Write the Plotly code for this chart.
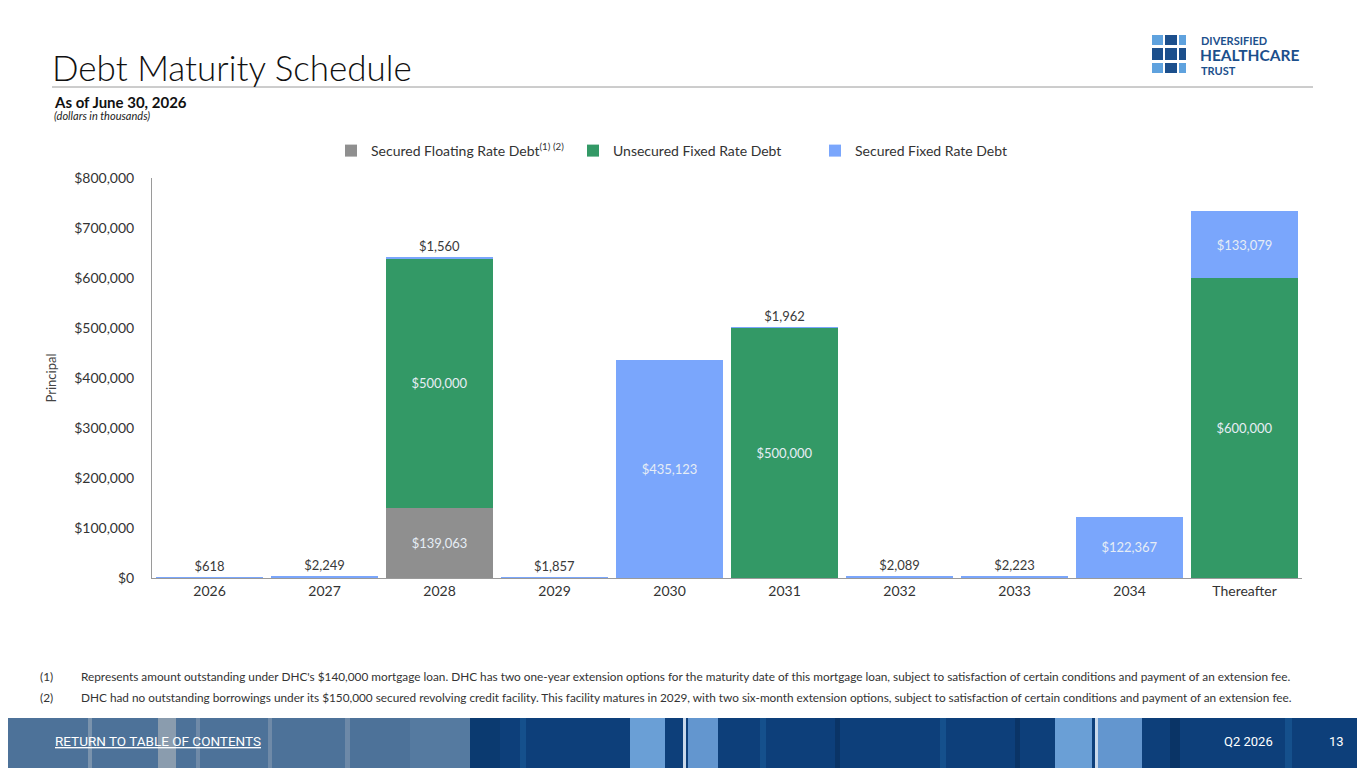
import plotly.graph_objects as go

categories = ["2026", "2027", "2028", "2029", "2030", "2031", "2032", "2033", "2034", "Thereafter"]
secured_floating = [0, 0, 139063, 0, 0, 0, 0, 0, 0, 0]
unsecured_fixed = [0, 0, 500000, 0, 0, 500000, 0, 0, 0, 600000]
secured_fixed = [618, 2249, 1560, 1857, 435123, 1962, 2089, 2223, 122367, 133079]
y_ticks = [0, 100000, 200000, 300000, 400000, 500000, 600000, 700000, 800000]
y_tick_labels = ["$0", "$100,000", "$200,000", "$300,000", "$400,000", "$500,000", "$600,000", "$700,000", "$800,000"]

# page is drawn with an 8px body offset; work in screen pixels and convert
OFF = 8
W, H = 1365 - OFF, 768 - OFF
PL, PR, PT, PB = 152, 1302, 178, 578  # plot area in screen pixels
L, T = PL - OFF, PT - OFF
R, B = W - (PR - OFF), H - (PB - OFF)
PW, PH = PR - PL, PB - PT


def px(x):
    return (x - PL) / PW


def py(y):
    return (PB - y) / PH


FONT = "Lato"
GREY = "#8f8f8f"
GREEN = "#339966"
BLUE = "#7aa6fc"
INSIDE_TXT = "#e6edf5"
OUT_TXT = "#3a3a3a"


def labels(vals):
    return [f"${v:,}" if v else "" for v in vals]


fig = go.Figure()
fig.add_trace(go.Bar(
    x=categories, y=secured_floating, name="Secured Floating Rate Debt<sup>(1) (2)</sup>",
    marker=dict(color=GREY, line=dict(width=0)),
    text=labels(secured_floating), textposition="inside", insidetextanchor="middle",
    textfont=dict(color=INSIDE_TXT, size=13, family=FONT), hoverinfo="skip",
))
fig.add_trace(go.Bar(
    x=categories, y=unsecured_fixed, name="Unsecured Fixed Rate Debt",
    marker=dict(color=GREEN, line=dict(width=0)),
    text=labels(unsecured_fixed), textposition="inside", insidetextanchor="middle",
    textfont=dict(color=INSIDE_TXT, size=13, family=FONT), hoverinfo="skip",
))
sf_pos = ["inside" if v > 50000 else "outside" for v in secured_fixed]
fig.add_trace(go.Bar(
    x=categories, y=secured_fixed, name="Secured Fixed Rate Debt",
    marker=dict(color=BLUE, line=dict(width=0)),
    text=labels(secured_fixed), textposition=sf_pos, insidetextanchor="middle",
    insidetextfont=dict(color=INSIDE_TXT, size=13, family=FONT),
    outsidetextfont=dict(color=OUT_TXT, size=13, family=FONT),
    cliponaxis=False, hoverinfo="skip",
))

shapes = []
annotations = []


def ann(text, x, y, size, color="#111111", xanchor="left", family=FONT, weight=None):
    f = dict(family=family, size=size, color=color)
    if weight:
        f["weight"] = weight
    annotations.append(dict(text=text, x=px(x), y=py(y), xref="paper", yref="paper",
                            xanchor=xanchor, yanchor="middle", showarrow=False, font=f))


# title rule
shapes.append(dict(type="line", xref="paper", yref="paper", x0=px(52), x1=px(1313), y0=py(87), y1=py(87),
                   line=dict(color="#9a9a9a", width=1)))

ann("Debt Maturity Schedule", 50, 67, 35, weight=300)
ann("<b>As of June 30, 2026</b>", 52, 102, 15)
ann("<i>(dollars in thousands)</i>", 52, 115, 11, color="#222222")

# logo
DARK = "#1c4f8c"
LIGHT = "#5fa2de"
cols = [(1152, 1163), (1165, 1177), (1179, 1186)]
rows = [(35, 45), (48, 60), (63, 73)]
pattern = [[LIGHT, DARK, LIGHT], [DARK, DARK, DARK], [LIGHT, DARK, LIGHT]]
for ri, (y0, y1) in enumerate(rows):
    for ci, (x0, x1) in enumerate(cols):
        shapes.append(dict(type="rect", xref="paper", yref="paper", x0=px(x0), x1=px(x1),
                           y0=py(y1), y1=py(y0), fillcolor=pattern[ri][ci], line=dict(width=0)))
ann("<b>DIVERSIFIED</b>", 1199, 40, 11, color=DARK)
ann("<b>HEALTHCARE</b>", 1198, 55, 15.5, color=DARK)
ann("<b>TRUST</b>", 1199, 70, 11, color=DARK)

# footnotes
notes = [
    ("(1)", "Represents amount outstanding under DHC's $140,000 mortgage loan. DHC has two one-year extension options for the maturity date of this mortgage loan, subject to satisfaction of certain conditions and payment of an extension fee."),
    ("(2)", "DHC had no outstanding borrowings under its $150,000 secured revolving credit facility. This facility matures in 2029, with two six-month extension options, subject to satisfaction of certain conditions and payment of an extension fee."),
]
for i, (n, t) in enumerate(notes):
    yy = 676 + 21 * i
    ann(n, 38, yy, 11.8, color="#333333")
    ann(t, 79, yy, 11.8, color="#333333")


# bottom banner
def rect(x0, x1, y0, y1, color):
    shapes.append(dict(type="rect", xref="paper", yref="paper", x0=px(x0), x1=px(x1), y0=py(y1), y1=py(y0),
                       fillcolor=color, line=dict(width=0), layer="above"))


rect(0, 1365, 718, 768, "#0d3f7a")
rect(0, 470, 718, 768, "#4d7299")
for (a, b, c) in [(0, 6, "#6f8fb0"), (88, 92, "#7a93ad"), (158, 176, "#8a9cae"), (196, 200, "#6f8aa8"),
                  (268, 272, "#6f8aa8"), (345, 350, "#6d89a8"), (410, 470, "#557aa0")]:
    rect(a, b, 718, 768, c)
for (a, b, c) in [(470, 500, "#0b3a70"), (520, 526, "#15508c"), (630, 665, "#6a9fd6"), (683, 686, "#c9d8ea"),
                  (688, 718, "#6396cf"), (760, 766, "#15508c"), (835, 840, "#0a3466"), (940, 946, "#15508c"),
                  (1015, 1020, "#0a3466"), (1055, 1092, "#6a9fd6"), (1095, 1098, "#c9d8ea"),
                  (1098, 1142, "#6396cf"), (1170, 1180, "#0a3466"), (1285, 1292, "#15508c")]:
    rect(a, b, 718, 768, c)
ann("<u>RETURN TO TABLE OF CONTENTS</u>", 53, 741, 13.5, color="#ffffff", family="Roboto")
ann("Q2 2026", 1222, 741, 13, color="#ffffff", family="Roboto")
ann("13", 1346, 741, 13, color="#ffffff", xanchor="right", family="Roboto")

fig.update_layout(
    width=W, height=H,
    margin=dict(l=L, r=R, t=T, b=B, autoexpand=False),
    paper_bgcolor="white", plot_bgcolor="white",
    barmode="stack", bargap=0.07,
    font=dict(family=FONT, size=13, color="#333333"),
    showlegend=True,
    legend=dict(orientation="h", x=px(694), xanchor="center", y=py(151), yanchor="middle",
                font=dict(family=FONT, size=14, color="#333333"), traceorder="normal",
                entrywidth=197, entrywidthmode="pixels", itemclick=False),
    xaxis=dict(showline=True, linecolor="#9a9a9a", linewidth=1, ticks="", showgrid=False,
               tickfont=dict(size=14, color="#333333"), fixedrange=True),
    yaxis=dict(range=[0, 800000], tickvals=y_ticks, ticktext=y_tick_labels, showline=True,
               linecolor="#9a9a9a", linewidth=1, ticks="", showgrid=False, zeroline=False,
               ticklabelstandoff=14, tickfont=dict(size=14, color="#333333"),
               title=dict(text="Principal", font=dict(size=13, color="#444444"), standoff=14), fixedrange=True),
    shapes=shapes, annotations=annotations,
)

fig.write_html("out.html")
